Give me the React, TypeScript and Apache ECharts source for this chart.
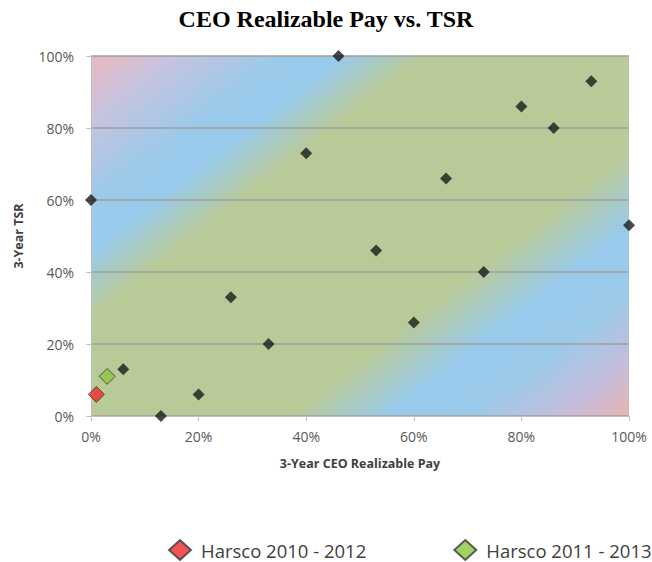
import React, { useEffect, useRef } from "react";
import * as echarts from "echarts";

const peerPay = [0, 6, 13, 20, 26, 33, 40, 46, 53, 60, 66, 73, 80, 86, 93, 100];
const peerTsr = [60, 13, 0, 6, 33, 20, 73, 100, 46, 26, 66, 40, 86, 80, 93, 53];
const harsco1012Pay = [1];
const harsco1012Tsr = [6];
const harsco1113Pay = [3];
const harsco1113Tsr = [11];
const seriesNames = ["Peers", "Harsco 2010 - 2012", "Harsco 2011 - 2013"];
const axisTicks = [0, 20, 40, 60, 80, 100];

const zip = (a: number[], b: number[]) => a.map((v, i) => [v, b[i]]);

const GRID_LEFT = 91;
const GRID_TOP = 56;
const GRID_W = 538;
const GRID_H = 360;

export default function App() {
  const ref = useRef<HTMLDivElement>(null);
  useEffect(() => {
    if (!ref.current) return;
    const chart = echarts.init(ref.current, null, { renderer: "svg" });
    const font = "'Open Sans', 'DejaVu Sans', sans-serif";
    // diagonal gradient with iso-lines at ~38 degrees, spanning the plot area
    const ang = (38 * Math.PI) / 180;
    const nx = Math.sin(ang);
    const ny = Math.cos(ang);
    const span = GRID_W * nx + GRID_H * ny;
    const bg = {
      type: "linear",
      global: true,
      x: GRID_LEFT,
      y: GRID_TOP,
      x2: GRID_LEFT + span * nx,
      y2: GRID_TOP + span * ny,
      colorStops: [
        { offset: 0, color: "#e9b9bd" },
        { offset: 0.08, color: "#c8c3de" },
        { offset: 0.19, color: "#9ccaea" },
        { offset: 0.25, color: "#98caec" },
        { offset: 0.335, color: "#b9ca99" },
        { offset: 0.66, color: "#b9ca99" },
        { offset: 0.76, color: "#98caec" },
        { offset: 0.84, color: "#9ccaea" },
        { offset: 0.93, color: "#c5bddb" },
        { offset: 1, color: "#e8b3b3" },
      ],
    };
    chart.setOption({
      animation: false,
      title: {
        text: "CEO Realizable Pay vs. TSR",
        left: "center",
        top: 2,
        textStyle: {
          fontFamily: "'Liberation Serif', 'Times New Roman', serif",
          fontWeight: "bold",
          fontSize: 24,
          color: "#000",
        },
      },
      grid: {
        left: GRID_LEFT,
        width: GRID_W,
        top: GRID_TOP,
        height: GRID_H,
        show: true,
        backgroundColor: bg,
        borderWidth: 0,
      },
      legend: {
        data: [seriesNames[1], seriesNames[2]],
        top: 534,
        left: 168,
        width: 484,
        padding: [5, 0, 5, 0],
        itemGap: 87,
        itemWidth: 22,
        itemHeight: 20,
        textStyle: {
          fontFamily: font,
          fontSize: 18.5,
          color: "#404040",
          padding: [0, 0, 0, 5],
        },
      },
      xAxis: {
        type: "value",
        min: 0,
        max: 100,
        interval: 20,
        name: "3-Year CEO Realizable Pay",
        nameLocation: "middle",
        nameGap: 41,
        nameTextStyle: { fontFamily: font, fontWeight: "bold", fontSize: 12.5, color: "#404040" },
        axisLine: { show: true, lineStyle: { color: "#bfbfbf", width: 1 } },
        axisTick: { show: true, length: 5, lineStyle: { color: "#bfbfbf" } },
        splitLine: { show: false },
        axisLabel: {
          fontFamily: font,
          fontSize: 14,
          color: "#595959",
          margin: 13,
          formatter: (v: number) => (axisTicks.includes(v) ? v + "%" : ""),
        },
      },
      yAxis: {
        type: "value",
        min: 0,
        max: 100,
        interval: 20,
        name: "3-Year TSR",
        nameLocation: "middle",
        nameGap: 66,
        nameRotate: 90,
        nameTextStyle: { fontFamily: font, fontWeight: "bold", fontSize: 12.5, color: "#404040" },
        axisLine: { show: true, lineStyle: { color: "#bfbfbf", width: 1 } },
        axisTick: { show: true, length: 5, lineStyle: { color: "#bfbfbf" } },
        splitLine: { show: true, lineStyle: { color: "#9e9e9e", width: 1.5 } },
        axisLabel: {
          fontFamily: font,
          fontSize: 14,
          color: "#595959",
          margin: 17,
          formatter: (v: number) => v + "%",
        },
      },
      series: [
        {
          name: seriesNames[0],
          type: "scatter",
          symbol: "diamond",
          symbolSize: 12,
          clip: false,
          itemStyle: { color: "#1a1a1a" },
          data: zip(peerPay, peerTsr),
          z: 3,
        },
        {
          name: seriesNames[1],
          type: "scatter",
          symbol: "diamond",
          symbolSize: 16,
          clip: false,
          itemStyle: { color: "#ee2b2b", borderColor: "#3a3a3a", borderWidth: 1 },
          data: zip(harsco1012Pay, harsco1012Tsr),
          z: 4,
        },
        {
          name: seriesNames[2],
          type: "scatter",
          symbol: "diamond",
          symbolSize: 16,
          clip: false,
          itemStyle: { color: "#8cc63e", borderColor: "#3a3a3a", borderWidth: 1 },
          data: zip(harsco1113Pay, harsco1113Tsr),
          z: 4,
        },
      ],
    });
    return () => chart.dispose();
  }, []);
  return <div ref={ref} style={{ width: 652, height: 562, position: "absolute", left: 0, top: 0 }} />;
}
